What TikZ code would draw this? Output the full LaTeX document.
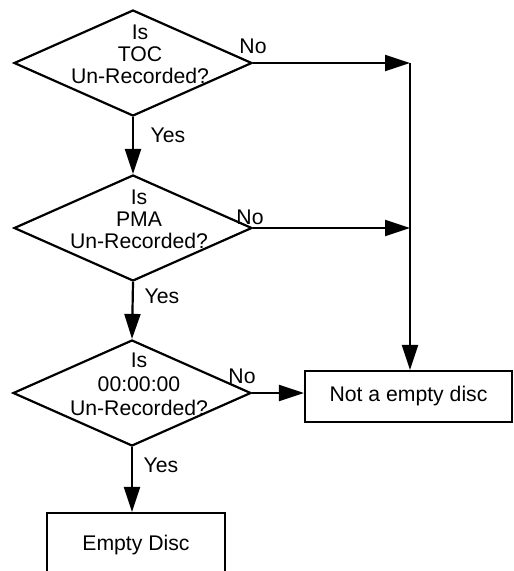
\documentclass[tikz,border=0pt]{standalone}
\usepackage{fontspec}
\setmainfont{Liberation Sans}
\usetikzlibrary{shapes.geometric,arrows.meta}
\begin{document}
\begin{tikzpicture}[x=1pt,y=-1pt,
  every node/.style={font=\fontsize{21.2}{22}\selectfont},
  dec/.style={draw,line width=2.2pt,shape=diamond,inner sep=0pt,minimum width=238pt,minimum height=106pt},
  qtext/.style={align=center,inner sep=0pt},
  procbox/.style={draw,line width=2.2pt,rectangle,inner sep=0pt},
  conn/.style={line width=2.2pt,-{Triangle[length=25pt,width=16pt]}},
  lab/.style={inner sep=0pt}]
\useasboundingbox (0,0) rectangle (514,571);
\clip (0,0) rectangle (514,571);
\node[dec] (d1) at (133,63) {};
\node[qtext] (t1) at (140,54) {Is\\TOC\\Un-Recorded?};
\node[dec] (d2) at (133,228) {};
\node[qtext] (t2) at (139,219) {Is\\PMA\\Un-Recorded?};
\node[dec] (d3) at (132,393) {};
\node[qtext,font=\fontsize{21.2}{24}\selectfont] (t3) at (139,384) {Is\\00:00:00\\Un-Recorded?};
\node[procbox,minimum width=207pt,minimum height=51pt] (nb) at (408.5,396.5) {Not a empty disc};
\node[procbox,minimum width=178pt,minimum height=64pt] (eb) at (136,545) {Empty Disc};
\coordinate (j1) at (410,63);
\coordinate (j2) at (410,228);
% connectors
\draw[conn] (d1.east) -- (j1);
\draw[conn] (d2.east) -- (j2);
\draw[conn] (j1) -- (j1 |- nb.north);
\draw[conn] (d3.east) -- (d3.east -| nb.west);
\draw[conn] (d1.south) -- (d2.north);
\draw[conn] (d2.south) -- (d3.north);
\draw[conn] (d3.south) -- (d3.south |- eb.north);
% labels
\node[lab] (n1) at (253,46) {No};
\node[lab] (y1) at (168,135) {Yes};
\node[lab] (n2) at (250,217) {No};
\node[lab] (y2) at (162,296) {Yes};
\node[lab] (n3) at (242,376) {No};
\node[lab] (y3) at (161,465) {Yes};
\end{tikzpicture}
\end{document}
